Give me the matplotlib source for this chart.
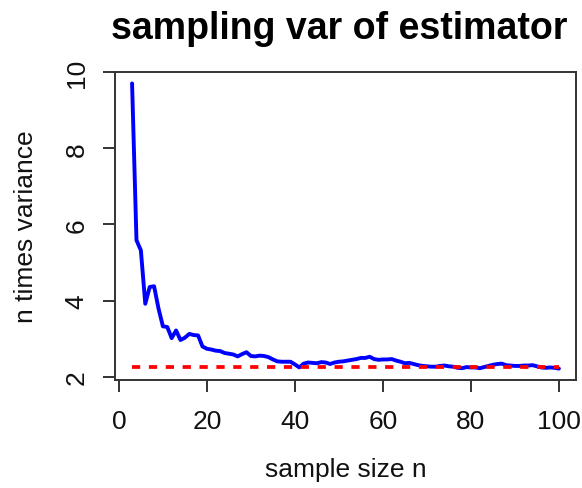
import matplotlib
matplotlib.use("Agg")
import matplotlib.pyplot as plt

# ---- data ----
sample_size = list(range(3, 101))
n_times_variance = [
    9.70, 5.59, 5.32, 3.92, 4.36, 4.38, 3.80, 3.33, 3.31, 3.02,   # 3-12
    3.22, 2.97, 3.03, 3.13, 3.10, 3.09, 2.80, 2.74, 2.72, 2.69,   # 13-22
    2.68, 2.63, 2.61, 2.59, 2.54, 2.60, 2.65, 2.55, 2.54, 2.56,   # 23-32
    2.55, 2.52, 2.46, 2.41, 2.40, 2.40, 2.40, 2.33, 2.25, 2.35,   # 33-42
    2.38, 2.37, 2.36, 2.39, 2.38, 2.34, 2.38, 2.40, 2.41, 2.43,   # 43-52
    2.45, 2.47, 2.50, 2.50, 2.53, 2.47, 2.45, 2.46, 2.46, 2.47,   # 53-62
    2.43, 2.40, 2.36, 2.37, 2.34, 2.31, 2.29, 2.28, 2.27, 2.27,   # 63-72
    2.29, 2.30, 2.28, 2.27, 2.24, 2.23, 2.26, 2.25, 2.25, 2.23,   # 73-82
    2.26, 2.29, 2.32, 2.34, 2.35, 2.31, 2.30, 2.29, 2.29, 2.30,   # 83-92
    2.30, 2.31, 2.28, 2.25, 2.24, 2.25, 2.24, 2.22,               # 93-100
]
reference_value = 2.25
x_ticks = [0, 20, 40, 60, 80, 100]
y_ticks = [2, 4, 6, 8, 10]
title = "sampling var of estimator"
x_label = "sample size n"
y_label = "n times variance"

plt.rcParams["font.family"] = ["Liberation Sans", "DejaVu Sans"]

W, H = 582, 489
fig = plt.figure(figsize=(W / 100, H / 100), dpi=100)
ax = fig.add_axes([115 / W, 1 - 381 / H, (576 - 115) / W, (381 - 73) / H])

ax.plot(sample_size, n_times_variance, color="#0000FF", lw=2.8,
        solid_joinstyle="round", solid_capstyle="round", zorder=2)
ax.hlines(reference_value, min(sample_size), max(sample_size),
          colors="#FF0000", lw=2.7, linestyles=(0, (2.2, 2.3)), zorder=3)

# R-style 4% axis extension
xr = max(sample_size) - min(sample_size)
ax.set_xlim(min(sample_size) - 0.04 * xr, max(sample_size) + 0.04 * xr)
yr = max(n_times_variance) - min(n_times_variance)
ax.set_ylim(min(n_times_variance) - 0.04 * yr, max(n_times_variance) + 0.04 * yr)

ax.set_xticks(x_ticks)
ax.set_yticks(y_ticks)
edge = "#333333"
for s in ax.spines.values():
    s.set_color(edge)
    s.set_linewidth(1.4)
ax.tick_params(axis="both", direction="out", length=8.6, width=1.4,
               color=edge, labelsize=19, labelcolor="#111111")
ax.tick_params(axis="x", pad=12.0)
ax.tick_params(axis="y", pad=10.4)
for lab in ax.get_yticklabels():
    lab.set_rotation(90)
    lab.set_va("center")

fig.text(33 / W, 1 - 227 / H, y_label, rotation=90, rotation_mode="anchor",
         ha="center", va="baseline", fontsize=19, color="#111111")
fig.text(345.5 / W, 1 - 477 / H, x_label, ha="center", va="baseline",
         fontsize=19, color="#111111")
fig.text(339 / W, 1 - 39 / H, title, ha="center", va="baseline",
         fontsize=27, fontweight="bold", color="#000000")

fig.savefig("out.png", dpi=100)
